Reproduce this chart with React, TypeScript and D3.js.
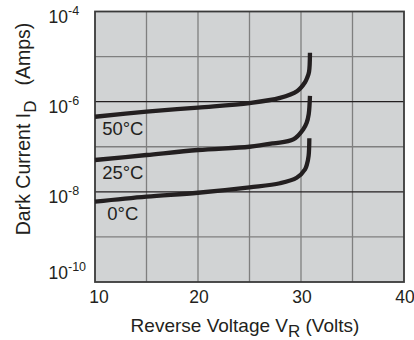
import React from 'react';
import * as d3 from 'd3';

// Data (Reverse voltage in volts, dark current in amps)
const voltage50 = [10, 15, 20, 25, 27.96, 29.61, 30.39, 30.6, 30.78, 30.87];
const current50 = [4.63e-7, 5.98e-7, 7.41e-7, 9.33e-7, 1.21e-6, 1.7e-6, 2.7e-6, 3.4e-6, 4.6e-6, 1.22e-5];

const voltage25 = [10, 15, 20, 25, 27.31, 29.25, 30.22, 30.55, 30.75, 30.87];
const current25 = [5.08e-8, 6.56e-8, 8.47e-8, 1.0e-7, 1.19e-7, 1.45e-7, 2.45e-7, 3.4e-7, 5.3e-7, 1.34e-6];

const voltage0 = [10, 15, 20, 25, 27.96, 29.58, 30.39, 30.58, 30.74, 30.81];
const current0 = [6.04e-9, 7.8e-9, 9.55e-9, 1.26e-8, 1.55e-8, 2.05e-8, 3.15e-8, 4.1e-8, 6.3e-8, 1.54e-7];

const seriesLabels = ['50°C', '25°C', '0°C'];
const labelVoltage = 12.7;

const xTicks = [10, 20, 30, 40];
const xGrid = [10, 15, 20, 25, 30, 35, 40];
const yTickExponents = [-4, -6, -8, -10];
const yGridExponents = [-4, -5, -6, -7, -8, -9, -10];

const xTitle = 'Reverse Voltage V';
const xTitleSub = 'R';
const xTitleEnd = ' (Volts)';
const yTitle = 'Dark Current I';
const yTitleSub = 'D';
const yTitleEnd = '(Amps)';

const W = 414;
const H = 340;
const M = { left: 95, right: 10, top: 11.5, bottom: 58 };
const FONT = "'Liberation Sans', Arial, Helvetica, sans-serif";
const INK = '#231f20';

export default function App() {
  const x = d3.scaleLinear().domain([10, 40]).range([M.left, W - M.right]);
  const y = d3.scaleLog().domain([1e-10, 1e-4]).range([H - M.bottom, M.top]);

  const series = [
    { v: voltage50, c: current50 },
    { v: voltage25, c: current25 },
    { v: voltage0, c: current0 },
  ];

  const line = d3
    .line<[number, number]>()
    .x((d) => x(d[0]))
    .y((d) => y(d[1]))
    .curve(d3.curveCatmullRom.alpha(0.5));

  const x0 = x(10), x1 = x(40), y0 = y(1e-4), y1 = y(1e-10);

  return (
    <svg width={W} height={H} style={{ position: 'absolute', left: 0, top: 0, background: '#fff' }} fontFamily={FONT}>
      <rect x={x0} y={y0} width={x1 - x0} height={y1 - y0} fill="#d1d3d4" />
      {xGrid.slice(1, -1).map((v) => (
        <line key={'vx' + v} x1={x(v)} x2={x(v)} y1={y0} y2={y1} stroke="#7f7f7f" strokeWidth={1.3} />
      ))}
      {yGridExponents.slice(1, -1).map((e) => (
        <line
          key={'hy' + e}
          x1={x0}
          x2={x1}
          y1={y(Math.pow(10, e))}
          y2={y(Math.pow(10, e))}
          stroke={e % 2 === 0 ? INK : '#7f7f7f'}
          strokeWidth={e % 2 === 0 ? 1.1 : 1.3}
        />
      ))}
      <rect x={x0} y={y0} width={x1 - x0} height={y1 - y0} fill="none" stroke="#3a3a3a" strokeWidth={1.8} />

      {series.map((s, i) => (
        <path
          key={'s' + i}
          d={line(s.v.map((v, j) => [v, s.c[j]] as [number, number])) || ''}
          fill="none"
          stroke={INK}
          strokeWidth={4.3}
          strokeLinecap="butt"
          strokeLinejoin="round"
        />
      ))}

      {series.map((s, i) => (
        <text
          key={'l' + i}
          x={x(labelVoltage)}
          y={y(s.c[0]) + 18.5}
          textAnchor="middle"
          fontSize={18.5}
          fill={INK}
        >
          {seriesLabels[i]}
        </text>
      ))}

      {xTicks.map((v, i) => (
        <text key={'xt' + v} x={x(v) + (i === 0 ? 4 : 1)} y={y1 + 21} textAnchor="middle" fontSize={17.5} fill={INK}>
          {v}
        </text>
      ))}

      {yTickExponents.map((e) => (
        <text
          key={'yt' + e}
          x={48.5}
          y={y(Math.pow(10, e)) + (e === -10 ? -3 : 11.5)}
          fontSize={17.5}
          fill={INK}
        >
          <tspan>10</tspan>
          <tspan dy={-8} fontSize={12.5}>{'-' + Math.abs(e)}</tspan>
        </text>
      ))}

      <text x={245} y={332} textAnchor="middle" fontSize={19} fill={INK}>
        <tspan>{xTitle}</tspan>
        <tspan dy={4.5} fontSize={17}>{xTitleSub}</tspan>
        <tspan dy={-4.5}>{xTitleEnd}</tspan>
      </text>

      <text transform={`translate(29.5, 129) rotate(-90)`} textAnchor="middle" fontSize={19.5} fill={INK}>
        <tspan>{yTitle}</tspan>
        <tspan dy={6} fontSize={17}>{yTitleSub}</tspan>
        <tspan dy={-6} dx={15}>{yTitleEnd}</tspan>
      </text>
    </svg>
  );
}
